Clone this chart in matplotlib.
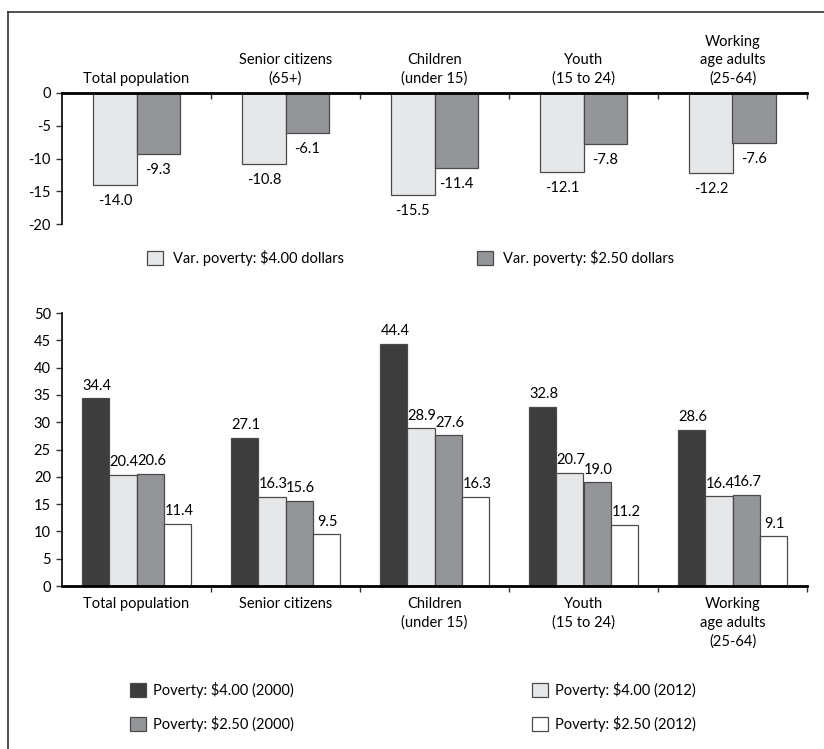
import matplotlib
matplotlib.use("Agg")
import matplotlib.pyplot as plt
import matplotlib.patches as mpatches
from matplotlib.lines import Line2D
import numpy as np

plt.rcParams['font.family'] = ['Lato', 'DejaVu Sans']
plt.rcParams['axes.unicode_minus'] = False
plt.rcParams['font.size'] = 10.5

# groups
top_groups = ["Total population", "Senior citizens\n(65+)", "Children\n(under 15)",
              "Youth\n(15 to 24)", "Working\nage adults\n(25-64)"]
bottom_groups = ["Total population", "Senior citizens", "Children\n(under 15)",
                 "Youth\n(15 to 24)", "Working\nage adults\n(25-64)"]

# variation of poverty 2000-2012 (percentage points)
var_400 = [-14.0, -10.8, -15.5, -12.1, -12.2]
var_250 = [-9.3, -6.1, -11.4, -7.8, -7.6]

# poverty rates (%)
pov_400_2000 = [34.4, 27.1, 44.4, 32.8, 28.6]
pov_400_2012 = [20.4, 16.3, 28.9, 20.7, 16.4]
pov_250_2000 = [20.6, 15.6, 27.6, 19.0, 16.7]
pov_250_2012 = [11.4, 9.5, 16.3, 11.2, 9.1]

c_dark = "#3d3d3e"
c_light = "#e6e7e8"
c_mid = "#939598"
c_white = "#ffffff"
edge = "#4a4a4a"

fig = plt.figure(figsize=(8.24, 7.49), dpi=100)
W, H = 824, 749

def px_axes(x0, y0, x1, y1):
    return fig.add_axes([x0 / W, 1 - y1 / H, (x1 - x0) / W, (y1 - y0) / H])

x = np.arange(5)
bounds = np.arange(6) - 0.5

# ---- top chart: variation
ax1 = px_axes(62, 93, 807, 224)
w1 = 0.29
b1 = ax1.bar(x - w1 / 2, var_400, w1, color=c_light, edgecolor=edge, linewidth=0.9)
b2 = ax1.bar(x + w1 / 2, var_250, w1, color=c_mid, edgecolor=edge, linewidth=0.9)
for bars, vals in ((b1, var_400), (b2, var_250)):
    for r, v in zip(bars, vals):
        ax1.annotate(f"{v:.1f}", (r.get_x() + r.get_width() / 2, v), xytext=(0, -6.5),
                     textcoords="offset points", ha="center", va="top")
ax1.set_ylim(-20, 0)
ax1.set_xlim(-0.5, 4.5)
ax1.set_yticks(np.arange(-20, 1, 5))
ax1.xaxis.tick_top()
ax1.set_xticks(bounds[1:])
ax1.set_xticklabels([])
ax1.set_xticks(x, top_groups, minor=True)
for lab in ax1.get_xticklabels(minor=True):
    lab.set_linespacing(1.4)
ax1.tick_params(axis="x", which="major", direction="in", length=4, width=1, color="#333333")
ax1.tick_params(axis="x", which="minor", length=0, pad=5)
ax1.tick_params(axis="y", length=4, width=1, color="#333333", pad=4)
for s in ("right", "bottom"):
    ax1.spines[s].set_visible(False)
ax1.spines["top"].set_linewidth(2)
ax1.spines["left"].set_linewidth(1.2)

# ---- bottom chart: poverty rates
ax2 = px_axes(62, 313, 807, 586)
w2 = 0.183
series = [(pov_400_2000, c_dark), (pov_400_2012, c_light),
          (pov_250_2000, c_mid), (pov_250_2012, c_white)]
for i, (vals, col) in enumerate(series):
    bars = ax2.bar(x + (i - 1.5) * w2, vals, w2, color=col, edgecolor=edge, linewidth=0.9)
    for r, v in zip(bars, vals):
        ax2.annotate(f"{v:.1f}", (r.get_x() + r.get_width() / 2, v), xytext=(1, 4),
                     textcoords="offset points", ha="center", va="bottom")
ax2.set_ylim(0, 50)
ax2.set_xlim(-0.5, 4.5)
ax2.set_yticks(np.arange(0, 51, 5))
ax2.set_xticks(bounds[1:])
ax2.set_xticklabels([])
ax2.set_xticks(x, bottom_groups, minor=True)
for lab in ax2.get_xticklabels(minor=True):
    lab.set_linespacing(1.4)
ax2.tick_params(axis="x", which="major", direction="out", length=4, width=1, color="#333333")
ax2.tick_params(axis="x", which="minor", length=0, pad=8)
ax2.tick_params(axis="y", length=4, width=1, color="#333333", pad=4)
for s in ("right", "top"):
    ax2.spines[s].set_visible(False)
ax2.spines["bottom"].set_linewidth(2)
ax2.spines["left"].set_linewidth(1.2)

# ---- legends
def patch(col):
    return mpatches.Patch(facecolor=col, edgecolor=edge, linewidth=0.9)

fig.legend([patch(c_light), patch(c_mid)],
           ["Var. poverty: $4.00 dollars", "Var. poverty: $2.50 dollars"],
           ncol=2, loc="center left", bbox_to_anchor=(147 / W, 1 - 258 / H),
           frameon=False, handlelength=1.1, handleheight=1.1, handletextpad=0.7,
           columnspacing=9.1, borderaxespad=0, borderpad=0)

fig.legend([patch(c_dark), patch(c_mid), patch(c_light), patch(c_white)],
           ["Poverty: $4.00 (2000)", "Poverty: $2.50 (2000)",
            "Poverty: $4.00 (2012)", "Poverty: $2.50 (2012)"],
           ncol=2, loc="upper left", bbox_to_anchor=(130 / W, 1 - 682 / H),
           frameon=False, handlelength=1.1, handleheight=1.1, handletextpad=0.5,
           columnspacing=16.3, labelspacing=1.2, borderaxespad=0, borderpad=0)

# frame lines
fig.add_artist(Line2D([8 / W, 8 / W], [0, 1 - 12 / H], color="#333333", linewidth=1.2))
fig.add_artist(Line2D([8 / W, 1], [1 - 12 / H, 1 - 12 / H], color="#333333", linewidth=1.2))

fig.savefig("out.png", dpi=100)
